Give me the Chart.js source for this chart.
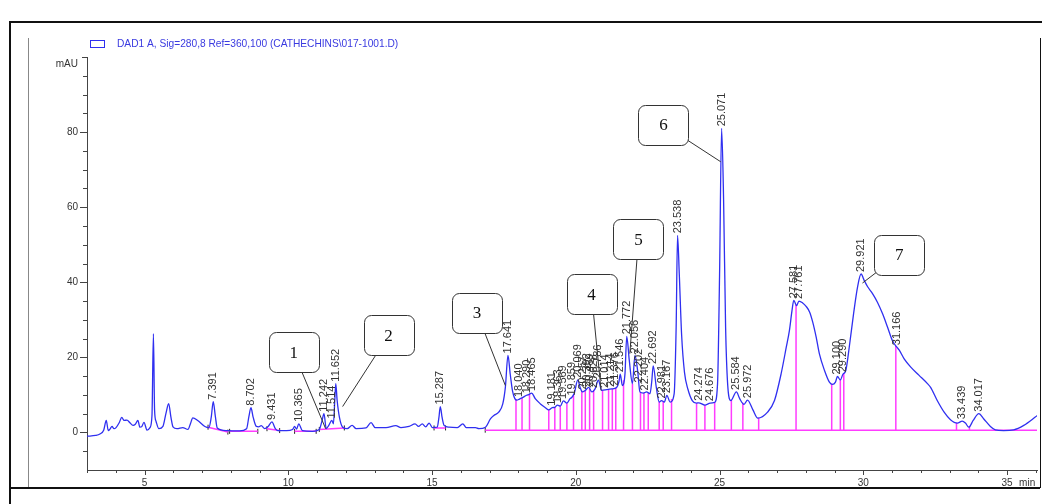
<!DOCTYPE html>
<html>
<head>
<meta charset="utf-8">
<script src="https://cdn.jsdelivr.net/npm/chart.js@4.4.1/dist/chart.umd.min.js"></script>
<style>
  html, body { margin: 0; padding: 0; background: #fff; }
  #wrap { position: relative; width: 1042px; height: 504px; }
  canvas { display: block; }
</style>
</head>
<body>
<div id="wrap"><canvas id="chrom" width="1042" height="504"></canvas></div>
<script>
// DAD1 A trace, 280 nm: retention time (min) and absorbance (mAU)
const retentionTimes = [
  3.00, 3.30, 3.45, 3.58, 3.67, 3.74, 3.80, 3.87, 3.94, 4.01, 4.12, 4.21, 4.29, 4.39, 4.50, 4.60, 4.68, 4.77, 4.84, 4.90,
  4.98, 5.09, 5.19, 5.26, 5.31, 5.35, 5.40, 5.50, 5.64, 5.75, 5.84, 5.92, 5.99, 6.13, 6.33, 6.51, 6.60, 6.68, 6.85, 7.10,
  7.24, 7.32, 7.391, 7.46, 7.53, 7.86, 8.31, 8.55, 8.63, 8.702, 8.78, 8.89, 8.97, 9.06, 9.18, 9.30, 9.431, 9.55, 9.63, 9.94,
  10.15, 10.22, 10.29, 10.365, 10.49, 10.84, 11.08, 11.17, 11.242, 11.32, 11.41, 11.514, 11.57, 11.62, 11.652, 11.70, 11.78, 11.89, 12.05, 12.22,
  12.36, 12.70, 12.88, 13.02, 13.40, 13.74, 13.92, 14.20, 14.41, 14.53, 14.66, 14.78, 14.90, 15.01, 15.18, 15.24, 15.287, 15.35, 15.42, 15.59,
  15.88, 16.07, 16.19, 16.51, 16.63, 16.86, 17.03, 17.15, 17.32, 17.46, 17.55, 17.641, 17.72, 17.80, 17.88, 17.95, 18.040, 18.13, 18.290, 18.36,
  18.465, 18.59, 18.77, 18.94, 19.06, 19.181, 19.27, 19.363, 19.46, 19.569, 19.69, 19.80, 19.859, 19.95, 20.069, 20.15, 20.23, 20.33, 20.45, 20.56,
  20.67, 20.786, 20.90, 21.08, 21.25, 21.42, 21.50, 21.546, 21.62, 21.71, 21.772, 21.86, 21.97, 22.056, 22.15, 22.23, 22.35, 22.46, 22.58, 22.64,
  22.692, 22.80, 22.90, 22.981, 23.08, 23.167, 23.28, 23.42, 23.49, 23.538, 23.60, 23.68, 23.78, 23.90, 24.05, 24.20, 24.274, 24.49, 24.676, 24.83,
  24.93, 25.00, 25.071, 25.14, 25.21, 25.28, 25.39, 25.584, 25.70, 25.85, 25.972, 26.16, 26.33, 26.67, 26.91, 27.14, 27.32, 27.43, 27.52, 27.581,
  27.68, 27.761, 27.89, 28.01, 28.13, 28.24, 28.36, 28.47, 28.65, 28.82, 28.93, 29.03, 29.100, 29.20, 29.290, 29.39, 29.51, 29.66, 29.80, 29.921,
  30.03, 30.15, 30.32, 30.49, 30.67, 30.84, 31.01, 31.166, 31.25, 31.42, 31.65, 31.94, 32.23, 32.34, 32.57, 32.81, 33.03, 33.27, 33.439, 33.55,
  33.67, 33.82, 34.017, 34.19, 34.42, 34.59, 34.88, 35.23, 35.58, 35.98, 36.10
];
const signal = [
  -1.0, -0.8, -0.4, 0.6, 3.2, 0.5, 0.9, 1.6, 1.0, 1.3, 2.6, 4.0, 3.2, 3.3, 2.5, 1.9, 2.2, 3.2, 1.4, 1.5,
  2.7, 0.6, 1.3, 4.5, 26.3, 6.0, 3.0, 1.0, 1.6, 5.2, 7.7, 4.0, 1.5, 1.0, 1.3, 0.8, 2.4, 3.9, 3.2, 1.6,
  1.3, 4.0, 8.2, 4.5, 1.2, 0.5, 0.4, 1.0, 4.2, 6.6, 4.0, 1.6, 1.5, 1.8, 1.0, 1.6, 2.8, 1.0, 0.5, 0.5,
  0.8, 1.6, 0.9, 2.3, 0.5, 0.3, 0.8, 3.0, 5.0, 1.0, 1.9, 3.2, 2.3, 9.0, 13.0, 8.5, 4.0, 1.4, 1.0, 1.9,
  1.0, 1.2, 2.6, 1.3, 1.3, 1.8, 1.3, 1.6, 2.3, 1.6, 2.3, 1.5, 2.5, 1.3, 1.4, 4.0, 6.9, 4.0, 1.9, 1.4,
  1.3, 2.3, 1.3, 1.3, 1.0, 1.4, 3.6, 4.5, 5.4, 7.6, 12.0, 20.5, 15.5, 11.0, 9.0, 8.6, 8.9, 9.2, 9.9, 10.1,
  10.5, 9.0, 7.6, 6.6, 6.0, 6.6, 6.7, 7.3, 7.0, 8.4, 7.8, 9.0, 9.3, 10.5, 14.0, 12.0, 10.8, 11.2, 12.0, 10.8,
  11.6, 13.9, 11.2, 11.4, 11.6, 12.0, 13.5, 15.5, 12.5, 15.6, 25.6, 19.2, 13.0, 20.5, 16.5, 10.8, 10.5, 10.8, 10.3, 13.5,
  17.7, 12.0, 8.1, 8.5, 8.1, 9.9, 8.1, 10.3, 28.0, 52.5, 42.0, 26.0, 16.0, 11.5, 8.5, 7.8, 7.9, 7.3, 7.8, 8.0,
  13.0, 42.0, 81.0, 62.0, 28.0, 13.0, 8.5, 10.8, 9.0, 7.5, 8.6, 6.0, 3.8, 5.4, 8.5, 15.6, 22.7, 27.2, 32.5, 35.2,
  33.8, 35.0, 34.5, 33.6, 32.1, 29.4, 25.4, 21.0, 16.5, 13.4, 12.8, 13.4, 14.9, 14.0, 15.5, 16.5, 22.7, 31.6, 38.8, 42.2,
  40.5, 38.8, 37.0, 34.7, 31.6, 28.1, 24.5, 22.7, 21.9, 19.6, 17.4, 15.2, 13.0, 12.0, 8.5, 5.4, 3.4, 2.5, 3.0, 2.5,
  1.4, 3.2, 5.0, 3.6, 1.6, 0.7, 0.5, 0.7, 1.9, 4.1, 4.8
];

// Integrated peaks (retention time labels)
const peakLabels = [
  '7.391', '8.702', '9.431', '10.365', '11.242', '11.514', '11.652', '15.287', '17.641', '18.040',
  '18.290', '18.465', '19.181', '19.363', '19.569', '19.859', '20.069', '20.257', '20.392', '20.489',
  '20.628', '20.786', '21.014', '21.214', '21.376', '21.546', '21.772', '22.056', '22.202', '22.404',
  '22.692', '22.981', '23.167', '23.538', '24.274', '24.676', '25.071', '25.584', '25.972', '27.581',
  '27.761', '29.100', '29.290', '29.921', '31.166', '33.439', '34.017'
];

// Integration baselines (start/end time and level, mAU)
const baseStart = [7.21, 7.96, 9.26, 10.22, 11.08, 15.07, 16.85];
const baseStartLevel = [1.4, 0.3, 1.0, 0.3, 0.8, 1.2, 0.6];
const baseEnd = [7.90, 8.94, 9.70, 10.97, 11.95, 15.47, 36.10];
const baseEndLevel = [0.1, 0.3, 0.5, 0.3, 1.2, 1.2, 0.6];

// Peak separation drop lines (min), from the common baseline
const dropTimes = [
  17.92, 18.13, 18.39, 19.06, 19.27, 19.46, 19.69, 19.92, 20.21, 20.33, 20.48, 20.62, 20.93, 21.14, 21.27,
  21.39, 21.66, 21.97, 22.25, 22.37, 22.52, 22.90, 23.04, 23.33, 24.20, 24.49, 24.83, 25.41, 25.81, 26.36,
  27.66, 28.90, 29.20, 29.32, 31.13, 33.24, 33.69
];
const dropLevel = 0.6;

// Axis ticks
const xTickValues = [5, 10, 15, 20, 25, 30, 35];
const yTickValues = [0, 20, 40, 60, 80];

// Numbered compounds: box centre (min, mAU) and leader target (min, mAU)
const calloutNumbers = ['1', '2', '3', '4', '5', '6', '7'];
const calloutBoxT = [10.19, 13.49, 16.56, 20.55, 22.18, 23.05, 31.25];
const calloutBoxV = [21.3, 25.9, 31.9, 36.8, 51.5, 82.0, 47.3];
const calloutTargetT = [11.30, 11.89, 17.55, 20.88, 21.88, 25.04, 29.97];
const calloutTargetV = [1.0, 6.9, 12.5, 11.2, 21.0, 72.1, 39.8];

const TRACE_BLUE = '#2f2ff0';
const PINK = '#ff3cff';

function signalAt(t) {
  if (t <= retentionTimes[0]) return signal[0];
  for (let i = 1; i < retentionTimes.length; i++) {
    if (t <= retentionTimes[i]) {
      const t0 = retentionTimes[i - 1], t1 = retentionTimes[i];
      const f = (t - t0) / (t1 - t0);
      return signal[i - 1] + f * (signal[i] - signal[i - 1]);
    }
  }
  return signal[signal.length - 1];
}

const traceData = retentionTimes.map((t, i) => ({ x: t, y: signal[i] }));

const baselineData = [];
baseStart.forEach((t, i) => {
  baselineData.push({ x: t, y: baseStartLevel[i] });
  baselineData.push({ x: baseEnd[i], y: baseEndLevel[i] });
  baselineData.push({ x: baseEnd[i], y: null });
});

const dropData = [];
dropTimes.forEach(t => {
  dropData.push({ x: t, y: dropLevel });
  dropData.push({ x: t, y: signalAt(t) });
  dropData.push({ x: t, y: null });
});

const markData = [];
baseStart.forEach((t, i) => {
  markData.push({ x: t, y: baseStartLevel[i] });
  markData.push({ x: baseEnd[i], y: baseEndLevel[i] });
});

function roundRect(ctx, x, y, w, h, r) {
  ctx.beginPath();
  ctx.moveTo(x + r, y);
  ctx.lineTo(x + w - r, y);
  ctx.arcTo(x + w, y, x + w, y + r, r);
  ctx.lineTo(x + w, y + h - r);
  ctx.arcTo(x + w, y + h, x + w - r, y + h, r);
  ctx.lineTo(x + r, y + h);
  ctx.arcTo(x, y + h, x, y + h - r, r);
  ctx.lineTo(x, y + r);
  ctx.arcTo(x, y, x + r, y, r);
  ctx.closePath();
}

const decor = {
  id: 'decor',
  beforeDraw(chart) {
    const ctx = chart.ctx;
    ctx.save();
    ctx.fillStyle = '#ffffff';
    ctx.fillRect(0, 0, chart.width, chart.height);
    ctx.restore();
  },
  afterDraw(chart) {
    const ctx = chart.ctx;
    const xs = chart.scales.x, ys = chart.scales.y;
    const area = chart.chartArea;
    ctx.save();

    // minor / major tick marks
    ctx.strokeStyle = '#444';
    ctx.lineWidth = 1;
    ctx.beginPath();
    for (let v = -5; v <= 100; v += 5) {
      const py = Math.round(ys.getPixelForValue(v)) + 0.5;
      const len = (v % 20 === 0 && v >= 0 && v < 100) ? 7 : (v === 100 ? 5 : 4);
      ctx.moveTo(area.left - len, py);
      ctx.lineTo(area.left, py);
    }
    for (let t = 3; t <= 36; t++) {
      const px = Math.round(xs.getPixelForValue(t)) + 0.5;
      const len = t % 5 === 0 ? 5 : 3;
      ctx.moveTo(px, area.bottom);
      ctx.lineTo(px, area.bottom + len);
    }
    ctx.stroke();

    // axis unit labels
    ctx.fillStyle = '#333';
    ctx.font = '10px "Liberation Sans", Arial, sans-serif';
    ctx.textAlign = 'right';
    ctx.textBaseline = 'middle';
    ctx.fillText('mAU', 78, ys.getPixelForValue(100) + 7);
    ctx.textAlign = 'left';
    ctx.fillText('min', xs.getPixelForValue(35) + 12, area.bottom + 13);

    // retention time labels above each integrated peak
    ctx.font = '11px "Liberation Sans", Arial, sans-serif';
    ctx.fillStyle = '#333';
    peakLabels.forEach(lbl => {
      const t = parseFloat(lbl);
      const px = xs.getPixelForValue(t);
      const py = ys.getPixelForValue(signalAt(t));
      ctx.save();
      ctx.translate(px, py - 2);
      ctx.rotate(-Math.PI / 2);
      ctx.textAlign = 'left';
      ctx.textBaseline = 'middle';
      ctx.fillText(lbl, 0, 0);
      ctx.restore();
    });

    // numbered compound callouts
    const bw = 50, bh = 40;
    calloutNumbers.forEach((num, i) => {
      const cx = xs.getPixelForValue(calloutBoxT[i]);
      const cy = ys.getPixelForValue(calloutBoxV[i]);
      const tx = xs.getPixelForValue(calloutTargetT[i]);
      const ty = ys.getPixelForValue(calloutTargetV[i]);
      ctx.strokeStyle = '#333';
      ctx.lineWidth = 1;
      ctx.beginPath();
      ctx.moveTo(cx, cy);
      ctx.lineTo(tx, ty);
      ctx.stroke();
      roundRect(ctx, Math.round(cx - bw / 2) + 0.5, Math.round(cy - bh / 2) + 0.5, bw, bh, 7);
      ctx.fillStyle = '#fff';
      ctx.fill();
      ctx.strokeStyle = '#333';
      ctx.stroke();
      ctx.fillStyle = '#111';
      ctx.font = '17px "Liberation Serif", "Times New Roman", serif';
      ctx.textAlign = 'center';
      ctx.textBaseline = 'middle';
      ctx.fillText(num, cx, cy + 1);
    });

    // signal legend
    ctx.strokeStyle = TRACE_BLUE;
    ctx.lineWidth = 1;
    ctx.strokeRect(90.5, 40.5, 14, 7);
    ctx.fillStyle = '#3a3ae0';
    ctx.font = '10.2px "Liberation Sans", Arial, sans-serif';
    ctx.textAlign = 'left';
    ctx.textBaseline = 'middle';
    ctx.fillText('DAD1 A, Sig=280,8 Ref=360,100 (CATHECHINS\\017-1001.D)', 117, 44.5);

    // panel frame
    ctx.strokeStyle = '#888';
    ctx.lineWidth = 1;
    ctx.beginPath();
    ctx.moveTo(28.5, 38);
    ctx.lineTo(28.5, 488);
    ctx.stroke();
    ctx.strokeStyle = '#111';
    ctx.lineWidth = 2;
    ctx.beginPath();
    ctx.moveTo(10, 504);
    ctx.lineTo(10, 22);
    ctx.lineTo(1042, 22);
    ctx.stroke();
    ctx.beginPath();
    ctx.moveTo(10, 488);
    ctx.lineTo(1040, 488);
    ctx.stroke();
    ctx.lineWidth = 1;
    ctx.beginPath();
    ctx.moveTo(1040.5, 38);
    ctx.lineTo(1040.5, 488);
    ctx.stroke();

    ctx.restore();
  }
};

new Chart(document.getElementById('chrom'), {
  type: 'line',
  data: {
    datasets: [
      {
        label: 'DAD1 A',
        data: traceData,
        borderColor: TRACE_BLUE,
        borderWidth: 1.3,
        pointRadius: 0,
        cubicInterpolationMode: 'monotone',
        fill: false
      },
      {
        label: 'baseline',
        data: baselineData,
        borderColor: PINK,
        borderWidth: 1.5,
        pointRadius: 0,
        spanGaps: false,
        fill: false
      },
      {
        label: 'drops',
        data: dropData,
        borderColor: PINK,
        borderWidth: 1.5,
        pointRadius: 0,
        spanGaps: false,
        fill: false
      },
      {
        label: 'marks',
        data: markData,
        showLine: false,
        pointStyle: 'line',
        rotation: 90,
        pointRadius: 2.5,
        borderColor: '#222',
        borderWidth: 1
      }
    ]
  },
  options: {
    responsive: false,
    animation: false,
    clip: 0,
    layout: { padding: { top: 57, right: 2, left: 0, bottom: 0 } },
    plugins: { legend: { display: false }, tooltip: { enabled: false } },
    scales: {
      x: {
        type: 'linear',
        min: 3,
        max: 36.04,
        grid: { display: false, drawTicks: true, tickLength: 5 },
        border: { display: true, color: '#444', width: 1 },
        afterBuildTicks: s => { s.ticks = xTickValues.map(v => ({ value: v })); },
        afterFit: s => { s.height = 34; },
        ticks: {
          autoSkip: false,
          maxRotation: 0,
          padding: 2,
          color: '#333',
          font: { family: '"Liberation Sans", Arial, sans-serif', size: 10 },
          callback: v => String(v)
        }
      },
      y: {
        type: 'linear',
        min: -10,
        max: 100,
        grid: { display: false, drawTicks: true, tickLength: 7 },
        border: { display: true, color: '#444', width: 1 },
        afterBuildTicks: s => { s.ticks = yTickValues.map(v => ({ value: v })); },
        afterFit: s => { s.width = 87; },
        ticks: {
          autoSkip: false,
          padding: 2,
          color: '#333',
          font: { family: '"Liberation Sans", Arial, sans-serif', size: 10 },
          callback: v => String(v)
        }
      }
    }
  },
  plugins: [decor]
});
</script>
</body>
</html>
